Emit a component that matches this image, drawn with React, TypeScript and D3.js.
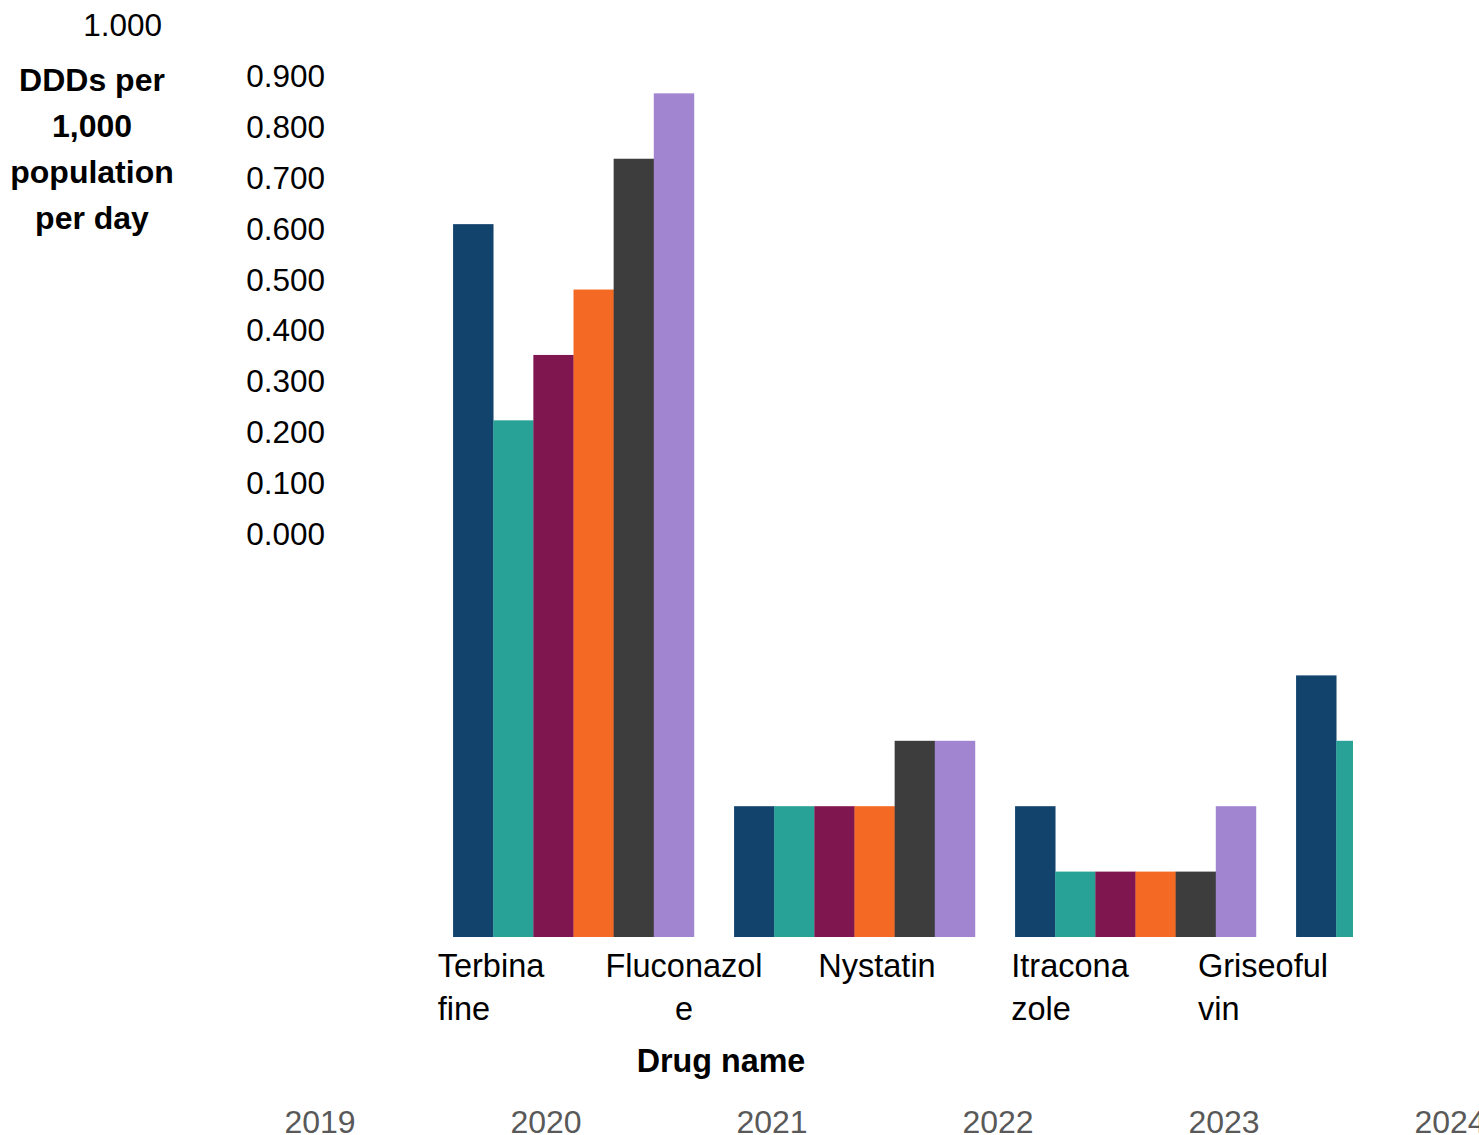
import React, { useEffect, useRef } from "react";
import * as d3 from "d3";

const categories = ["Terbinafine", "Fluconazole", "Nystatin", "Itraconazole", "Griseofulvin"];
const categoryLabelLines = [["Terbina", "fine"], ["Fluconazol", "e"], ["Nystatin"], ["Itracona", "zole"], ["Griseoful", "vin"]];
const years = ["2019", "2020", "2021", "2022", "2023", "2024"];
const values2019 = [0.109, 0.02, 0.02, 0.04, 0.02];
const values2020 = [0.079, 0.02, 0.01, 0.03, 0.01];
const values2021 = [0.089, 0.02, 0.01, 0.03, 0.01];
const values2022 = [0.099, 0.02, 0.01, 0.03, 0.01];
const values2023 = [0.119, 0.03, 0.01, 0.03, 0.01];
const values2024 = [0.129, 0.03, 0.02, 0.03, 0.01];
const seriesValues = [values2019, values2020, values2021, values2022, values2023, values2024];
const colors = ["#12436D", "#28A197", "#801650", "#F46A25", "#3D3D3D", "#A285D1"];
const yTicks = [0, 0.1, 0.2, 0.3, 0.4, 0.5, 0.6, 0.7, 0.8, 0.9, 1.0];
const yTitleLines = ["DDDs per", "1,000", "population", "per day"];

const W = 1479;
const H = 1135;
const FONT = "'Liberation Sans', Arial, sans-serif";

export default function App() {
  const ref = useRef<SVGSVGElement | null>(null);

  useEffect(() => {
    const svg = d3.select(ref.current);
    svg.selectAll("*").remove();

    const baseline = 937;
    const yBar = d3.scaleLinear().domain([0, 0.01]).range([baseline, baseline - 65.4]);
    const x0 = d3.scaleBand<string>().domain(categories).range([433, 433 + 5 * 281]).paddingInner(1 / 7).paddingOuter(1 / 14);
    const x1 = d3.scaleBand<string>().domain(years).range([0, x0.bandwidth()]);

    svg.append("defs").append("clipPath").attr("id", "plotclip")
      .append("rect").attr("x", 0).attr("y", 0).attr("width", 1353).attr("height", H);

    const barsG = svg.append("g").attr("clip-path", "url(#plotclip)");
    categories.forEach((c, ci) => {
      years.forEach((yr, yi) => {
        const v = seriesValues[yi][ci];
        barsG.append("rect")
          .attr("x", (x0(c) as number) + (x1(yr) as number))
          .attr("y", yBar(v))
          .attr("width", x1.bandwidth() + 0.3)
          .attr("height", baseline - yBar(v))
          .attr("fill", colors[yi]);
      });
    });

    // y axis tick labels
    const yAxis = d3.scaleLinear().domain([0, 1]).range([534, 25]);
    yTicks.forEach((t) => {
      const last = t === 1.0;
      svg.append("text")
        .attr("x", last ? 162 : 325)
        .attr("y", yAxis(t) + 11)
        .attr("text-anchor", "end")
        .attr("font-family", FONT)
        .attr("font-size", 31.5)
        .attr("fill", "#000")
        .text(d3.format(".3f")(t));
    });

    // y title
    yTitleLines.forEach((l, i) => {
      svg.append("text")
        .attr("x", 92)
        .attr("y", 91 + i * 46)
        .attr("text-anchor", "middle")
        .attr("font-family", FONT)
        .attr("font-size", 32)
        .attr("font-weight", "bold")
        .text(l);
    });

    // category labels
    const xLabel = d3.scalePoint<string>().domain(categories).range([491, 1263]);
    categories.forEach((c, ci) => {
      const lines = categoryLabelLines[ci];
      const cx = xLabel(c) as number;
      const first = svg.append("text")
        .attr("x", cx)
        .attr("y", 977)
        .attr("text-anchor", "middle")
        .attr("font-family", FONT)
        .attr("font-size", 32.5)
        .text(lines[0]);
      const w = (first.node() as SVGTextElement).getComputedTextLength();
      if (lines.length > 1) {
        const centered = lines[1].length === 1;
        svg.append("text")
          .attr("x", centered ? cx : cx - w / 2)
          .attr("y", 1020)
          .attr("text-anchor", centered ? "middle" : "start")
          .attr("font-family", FONT)
          .attr("font-size", 32.5)
          .text(lines[1]);
      }
    });

    // x title
    svg.append("text")
      .attr("x", 721)
      .attr("y", 1072)
      .attr("text-anchor", "middle")
      .attr("font-family", FONT)
      .attr("font-size", 32.3)
      .attr("font-weight", "bold")
      .text("Drug name");

    // year legend
    const xYear = d3.scalePoint<string>().domain(years).range([320, 1450]);
    years.forEach((yr) => {
      svg.append("text")
        .attr("x", xYear(yr) as number)
        .attr("y", 1133)
        .attr("text-anchor", "middle")
        .attr("font-family", FONT)
        .attr("font-size", 32)
        .attr("fill", "#595959")
        .text(yr);
    });
  }, []);

  return (
    <svg
      ref={ref}
      width={W}
      height={H}
      style={{ position: "absolute", left: 0, top: 0, background: "#fff" }}
    />
  );
}
